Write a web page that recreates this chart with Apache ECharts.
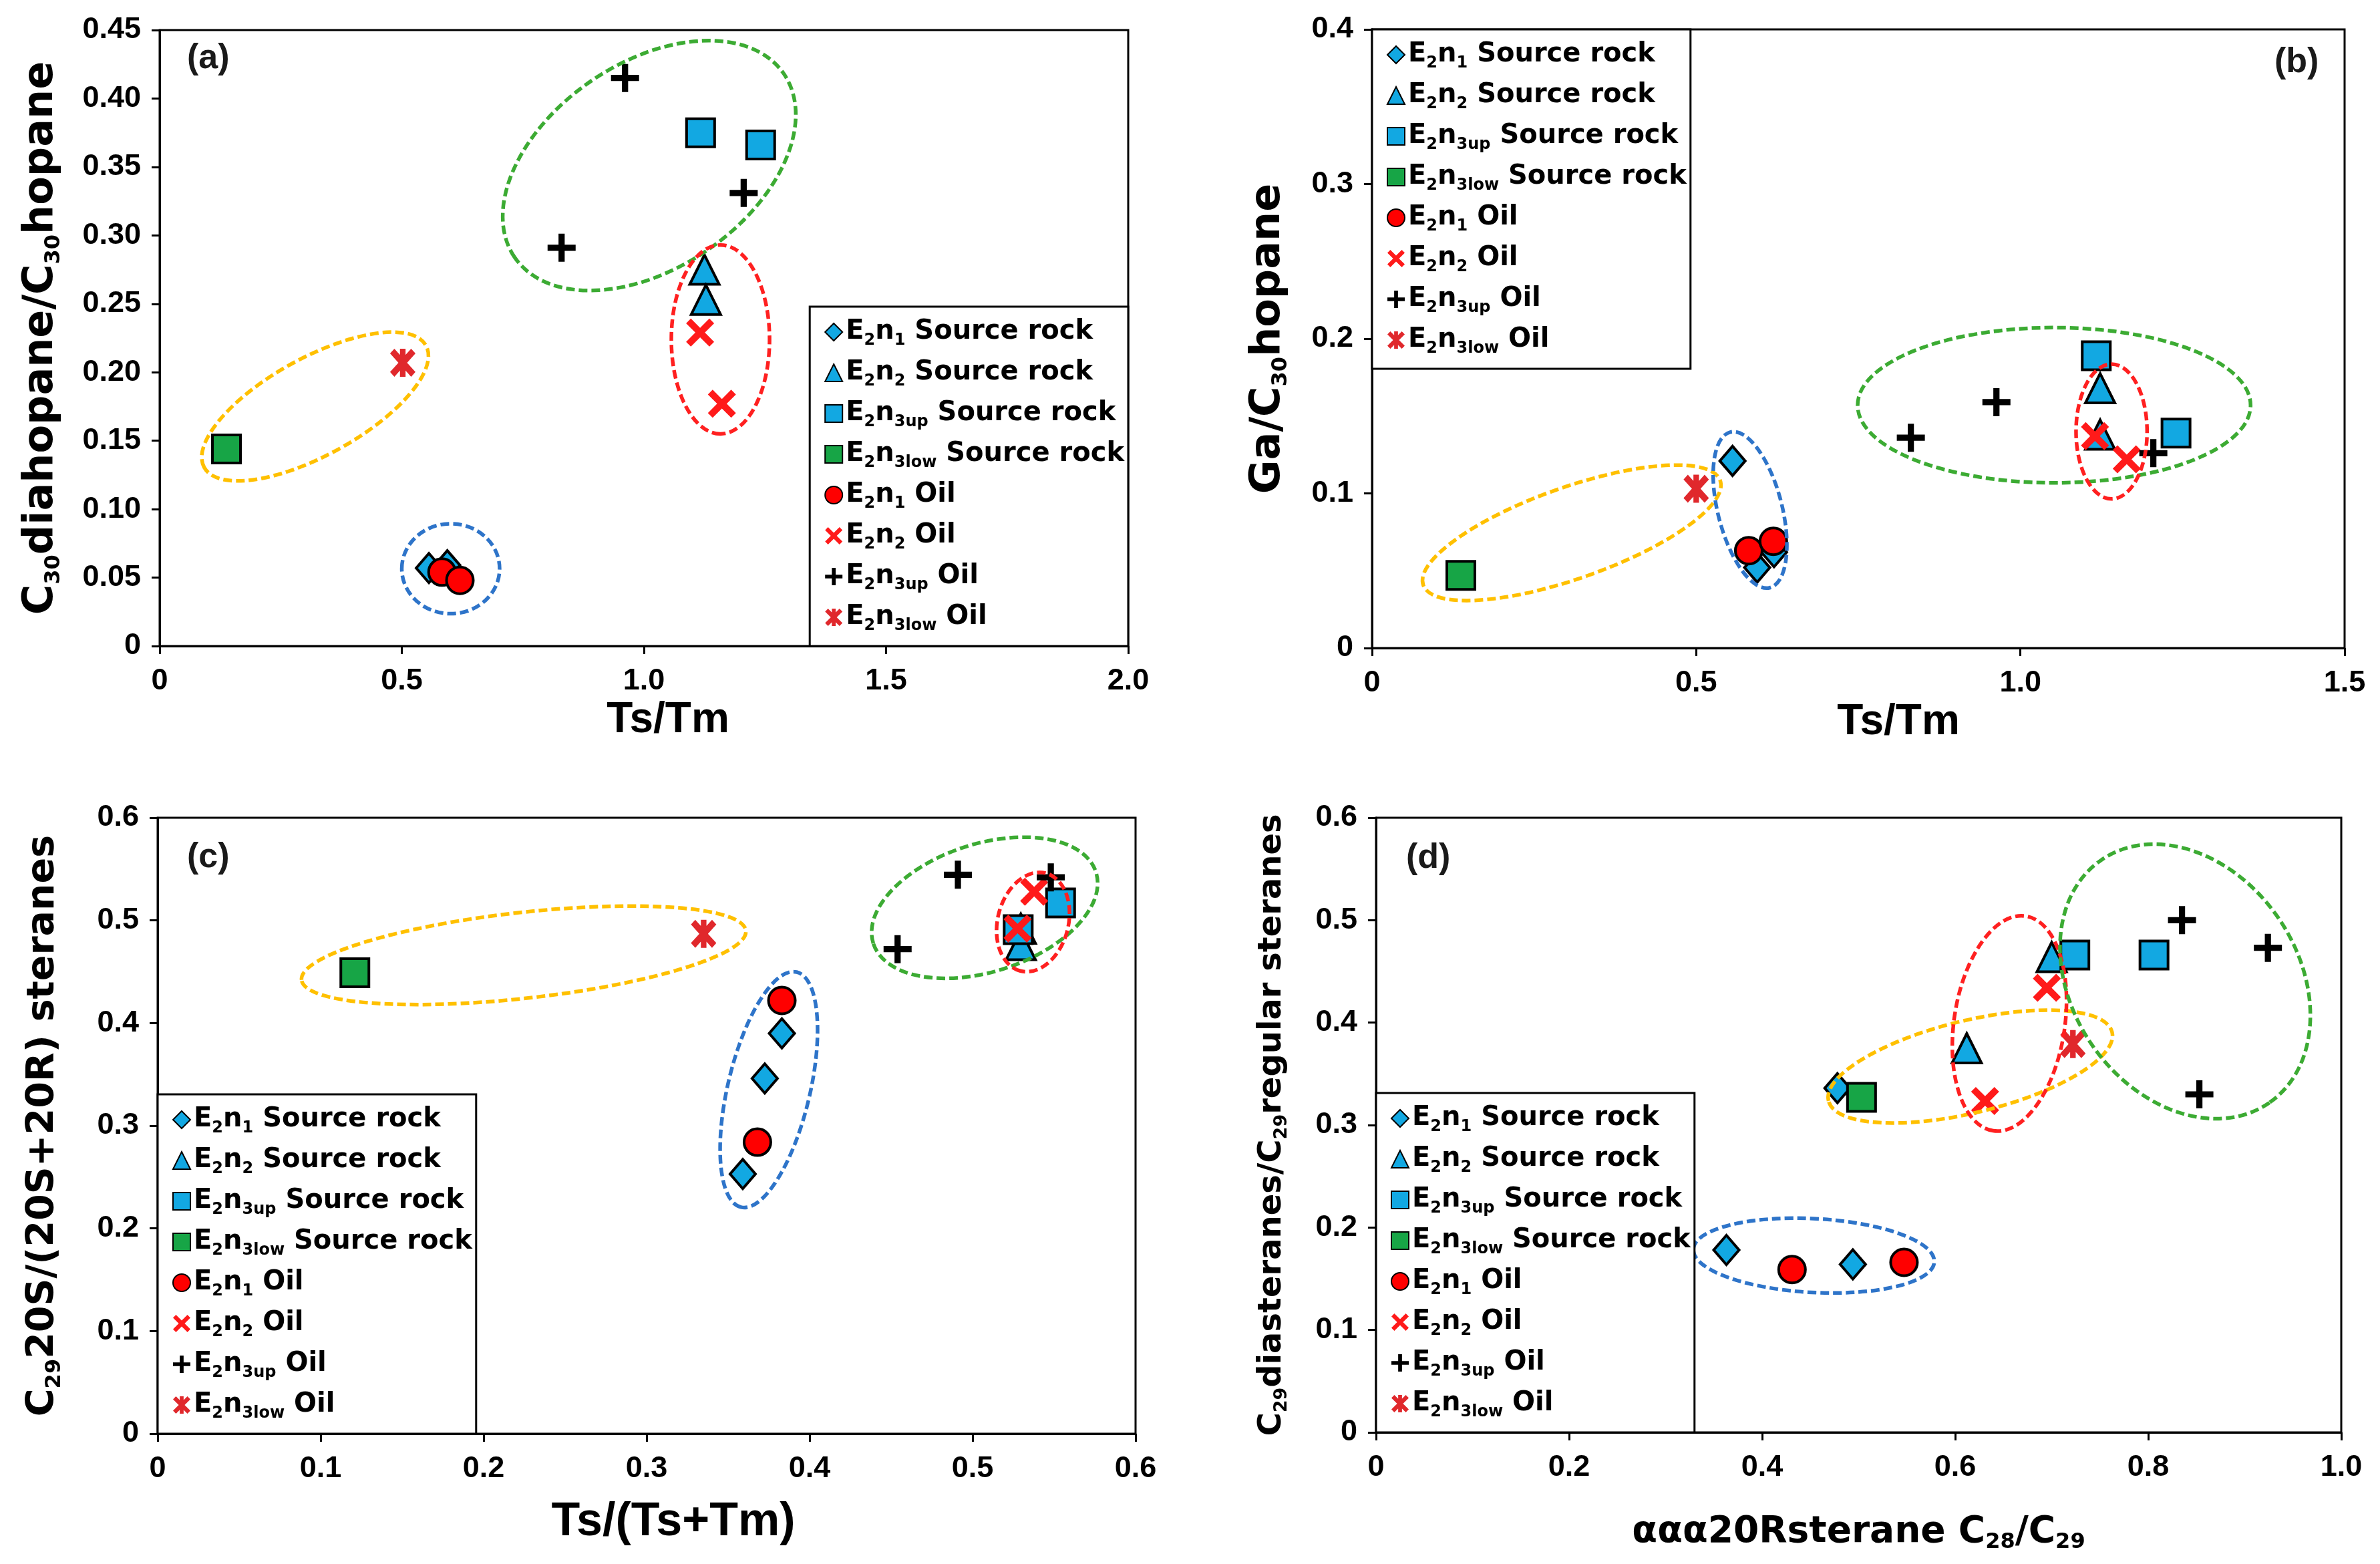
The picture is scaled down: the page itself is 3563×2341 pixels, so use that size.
<!DOCTYPE html>
<html>
<head>
<meta charset="utf-8">
<script src="https://cdn.jsdelivr.net/npm/echarts@6/dist/echarts.min.js"></script>
<style>html,body{margin:0;padding:0;background:#fff}#chart{width:3563px;height:2341px}</style>
</head>
<body>
<div id="chart"></div>
<script>
// ---------------- DATA ----------------
const seriesNames = ['E2n1 Source rock','E2n2 Source rock','E2n3up Source rock','E2n3low Source rock','E2n1 Oil','E2n2 Oil','E2n3up Oil','E2n3low Oil'];

// (a) Ts/Tm  vs  C30 diahopane / C30 hopane
const a_n1Src   = [[0.556,0.057],[0.594,0.059]];
const a_n2Src   = [[1.125,0.275],[1.128,0.253]];
const a_n3upSrc = [[1.117,0.375],[1.241,0.366]];
const a_n3lowSrc= [[0.138,0.144]];
const a_n1Oil   = [[0.583,0.054],[0.620,0.048]];
const a_n2Oil   = [[1.116,0.229],[1.161,0.177]];
const a_n3upOil = [[0.961,0.415],[1.206,0.331],[0.830,0.291]];
const a_n3lowOil= [[0.502,0.207]];

// (b) Ts/Tm  vs  Ga / C30 hopane
const b_n1Src   = [[0.556,0.121],[0.594,0.052],[0.620,0.062]];
const b_n2Src   = [[1.123,0.168],[1.123,0.138]];
const b_n3upSrc = [[1.117,0.189],[1.240,0.139]];
const b_n3lowSrc= [[0.137,0.047]];
const b_n1Oil   = [[0.581,0.063],[0.619,0.069]];
const b_n2Oil   = [[1.115,0.137],[1.164,0.122]];
const b_n3upOil = [[0.831,0.136],[0.963,0.159],[1.205,0.126]];
const b_n3lowOil= [[0.500,0.103]];

// (c) Ts/(Ts+Tm)  vs  C29 20S/(20S+20R) steranes
const c_n1Src   = [[0.359,0.253],[0.3725,0.346],[0.383,0.390]];
const c_n2Src   = [[0.5296,0.492],[0.5296,0.476]];
const c_n3upSrc = [[0.528,0.491],[0.554,0.517]];
const c_n3lowSrc= [[0.121,0.449]];
const c_n1Oil   = [[0.383,0.422],[0.368,0.284]];
const c_n2Oil   = [[0.5276,0.492],[0.5378,0.528]];
const c_n3upOil = [[0.491,0.5445],[0.454,0.472],[0.548,0.542]];
const c_n3lowOil= [[0.335,0.487]];

// (d) aaa20R sterane C28/C29  vs  C29 diasteranes / C29 regular steranes
const d_n1Src   = [[0.478,0.336],[0.363,0.178],[0.494,0.164]];
const d_n2Src   = [[0.612,0.375],[0.700,0.464]];
const d_n3upSrc = [[0.724,0.466],[0.806,0.466]];
const d_n3lowSrc= [[0.503,0.327]];
const d_n1Oil   = [[0.431,0.159],[0.547,0.166]];
const d_n2Oil   = [[0.695,0.434],[0.631,0.3235]];
const d_n3upOil = [[0.835,0.500],[0.924,0.473],[0.853,0.330]];
const d_n3lowOil= [[0.722,0.379]];

// Group ellipses: [centre x, centre y, major-axis end x, major-axis end y, minor/major ratio] in data units
const a_groups = [[1.011,0.351,1.289,0.418,0.63],[1.158,0.224,1.158,0.293,0.52],[0.321,0.175,0.550,0.2195,0.385],[0.601,0.0565,0.702,0.0565,0.92]];
const a_groupKeys = ['green','red','yellow','blue'];
const b_groups = [[1.052,0.157,1.355,0.157,0.395],[1.1406,0.140,1.1406,0.1836,0.527],[0.308,0.0745,0.537,0.1083,0.29],[0.583,0.0893,0.5525,0.1396,0.40]];
const b_groupKeys = ['green','red','yellow','blue'];
const c_groups = [[0.2246,0.466,0.3609,0.490,0.192],[0.375,0.3352,0.3921,0.4497,0.34],[0.5074,0.5123,0.5757,0.547,0.547],[0.5371,0.4984,0.5449,0.546,0.70]];
const c_groupKeys = ['yellow','blue','green','red'];
const d_groups = [[0.4536,0.1726,0.5784,0.1664,0.306],[0.6157,0.3571,0.7626,0.3906,0.316],[0.6562,0.3992,0.673,0.504,0.51],[0.8383,0.4402,0.751,0.5585,0.764]];
const d_groupKeys = ['blue','yellow','red','green'];

// Tick labels
const aXTicks = ['0','0.5','1.0','1.5','2.0'];
const aYTicks = ['0','0.05','0.10','0.15','0.20','0.25','0.30','0.35','0.40','0.45'];
const bXTicks = ['0','0.5','1.0','1.5'];
const bYTicks = ['0','0.1','0.2','0.3','0.4'];
const cXTicks = ['0','0.1','0.2','0.3','0.4','0.5','0.6'];
const cYTicks = ['0','0.1','0.2','0.3','0.4','0.5','0.6'];
const dXTicks = ['0','0.2','0.4','0.6','0.8','1.0'];
const dYTicks = ['0','0.1','0.2','0.3','0.4','0.5','0.6'];

// ---------------- STYLE / LAYOUT ----------------
const TICKFONT = "'Liberation Sans', Arial, sans-serif";
const WIDEFONT = "'DejaVu Sans', Verdana, sans-serif";
const BLUE = '#12a8e2', GREEN = '#17a546', REDFILL = '#ff0000', REDX = '#ff1a1a', STARRED = '#e0282c';
const ELLIPSE_COLORS = {green:'#3cab33', red:'#ff2020', yellow:'#ffc000', blue:'#2e74c9'};
const X_PATH = 'path://M17,0 L50,33 L83,0 L100,17 L67,50 L100,83 L83,100 L50,67 L17,100 L0,83 L33,50 L0,17 Z';
const PLUS_PATH = 'path://M39,0 H61 V39 H100 V61 H61 V100 H39 V61 H0 V39 H39 Z';
const STAR_PATH = 'path://M17,0 L50,33 L83,0 L100,17 L67,50 L100,83 L83,100 L50,67 L17,100 L0,83 L33,50 L0,17 Z M39,0 H61 V100 H39 Z';

const seriesStyle = [
  {symbol:'diamond', size:[38,44], color:BLUE, border:true},
  {symbol:'triangle', size:[44,44], color:BLUE, border:true},
  {symbol:'rect', size:42, color:BLUE, border:true},
  {symbol:'rect', size:42, color:GREEN, border:true},
  {symbol:'circle', size:40, color:REDFILL, border:true},
  {symbol:X_PATH, size:42, color:REDX, border:false},
  {symbol:PLUS_PATH, size:42, color:'#000', border:false},
  {symbol:STAR_PATH, size:[38,42], color:STARRED, border:false}
];

const legendText = [
  '{m|E}{s|2}{m|n}{s|1}{m| Source rock}',
  '{m|E}{s|2}{m|n}{s|2}{m| Source rock}',
  '{m|E}{s|2}{m|n}{s|3up}{m| Source rock}',
  '{m|E}{s|2}{m|n}{s|3low}{m| Source rock}',
  '{m|E}{s|2}{m|n}{s|1}{m| Oil}',
  '{m|E}{s|2}{m|n}{s|2}{m| Oil}',
  '{m|E}{s|2}{m|n}{s|3up}{m| Oil}',
  '{m|E}{s|2}{m|n}{s|3low}{m| Oil}'
];

const grids = [
  {left:239, top:45, width:1450, height:922},
  {left:2054, top:44, width:1456, height:926},
  {left:236, top:1224, width:1464, height:922},
  {left:2060, top:1224, width:1445, height:920}
];

const panelData = [
  [a_n1Src,a_n2Src,a_n3upSrc,a_n3lowSrc,a_n1Oil,a_n2Oil,a_n3upOil,a_n3lowOil],
  [b_n1Src,b_n2Src,b_n3upSrc,b_n3lowSrc,b_n1Oil,b_n2Oil,b_n3upOil,b_n3lowOil],
  [c_n1Src,c_n2Src,c_n3upSrc,c_n3lowSrc,c_n1Oil,c_n2Oil,c_n3upOil,c_n3lowOil],
  [d_n1Src,d_n2Src,d_n3upSrc,d_n3lowSrc,d_n1Oil,d_n2Oil,d_n3upOil,d_n3lowOil]
];
const panelGroups = [a_groups,b_groups,c_groups,d_groups];
const panelGroupKeys = [a_groupKeys,b_groupKeys,c_groupKeys,d_groupKeys];

const xScale = [
  {min:0,max:2,interval:0.5,ticks:aXTicks},
  {min:0,max:1.5,interval:0.5,ticks:bXTicks},
  {min:0,max:0.6,interval:0.1,ticks:cXTicks},
  {min:0,max:1.0,interval:0.2,ticks:dXTicks}
];
const yScale = [
  {min:0,max:0.45,interval:0.05,ticks:aYTicks},
  {min:0,max:0.4,interval:0.1,ticks:bYTicks},
  {min:0,max:0.6,interval:0.1,ticks:cYTicks},
  {min:0,max:0.6,interval:0.1,ticks:dYTicks}
];

const xNames = [
  {name:'{m|Ts/Tm}', gap:74, size:64, sub:38, font:TICKFONT, shift:36},
  {name:'{m|Ts/Tm}', gap:74, size:64, sub:38, font:TICKFONT, shift:60},
  {name:'{m|Ts/(Ts+Tm)}', gap:92, size:70, sub:40, font:TICKFONT, shift:40},
  {name:'{m|ααα20Rsterane C}{s|28}{m|/C}{s|29}', gap:118, size:55, sub:32, font:WIDEFONT, shift:0}
];
const yNames = [
  {name:'{m|C}{s|30}{m|diahopane/C}{s|30}{m|hopane}', gap:142, size:62, sub:32, font:WIDEFONT},
  {name:'{m|Ga/C}{s|30}{m|hopane}', gap:120, size:62, sub:32, font:WIDEFONT},
  {name:'{m|C}{s|29}{m|20S/(20S+20R) steranes}', gap:138, size:57, sub:32, font:WIDEFONT},
  {name:'{m|C}{s|29}{m|diasteranes/C}{s|29}{m|regular steranes}', gap:128, size:48, sub:27, font:WIDEFONT}
];

function richName(size, sub, font) {
  const lh = Math.round(size * 1.15);
  return {
    m: {fontFamily: font, fontWeight: 'bold', fontSize: size, color: '#000', lineHeight: lh},
    s: {fontFamily: font, fontWeight: 'bold', fontSize: sub, color: '#000', lineHeight: Math.round(sub * 1.35), verticalAlign: 'bottom'}
  };
}

function tickFormatter(sc) {
  return function (v) { return sc.ticks[Math.round((v - sc.min) / sc.interval)]; };
}

const commonAxis = {
  axisLine: {show: true, onZero: false, lineStyle: {color: '#000', width: 3}},
  axisTick: {show: true, inside: false, length: 12, lineStyle: {color: '#000', width: 3}},
  splitLine: {show: false},
  axisLabel: {show: true, color: '#000', fontFamily: TICKFONT, fontWeight: 'bold', fontSize: 45}
};

const option = {
  animation: false,
  backgroundColor: '#fff',
  grid: grids.map(g => Object.assign({show: true, borderColor: '#000', borderWidth: 3, containLabel: false, outerBoundsMode: 'none'}, g)),
  xAxis: xScale.map((sc, i) => ({
    type: 'value', gridIndex: i, min: sc.min, max: sc.max, interval: sc.interval,
    axisLine: commonAxis.axisLine, axisTick: commonAxis.axisTick, splitLine: commonAxis.splitLine,
    axisLabel: Object.assign({}, commonAxis.axisLabel, {margin: 30, formatter: tickFormatter(sc), showMinLabel: true, showMaxLabel: true}),
    name: xNames[i].name, nameLocation: 'middle', nameGap: xNames[i].gap,
    nameTextStyle: {padding: [0, 0, 0, xNames[i].shift * 2], rich: richName(xNames[i].size, xNames[i].sub, xNames[i].font)}
  })),
  yAxis: yScale.map((sc, i) => ({
    type: 'value', gridIndex: i, min: sc.min, max: sc.max, interval: sc.interval,
    axisLine: commonAxis.axisLine, axisTick: commonAxis.axisTick, splitLine: commonAxis.splitLine,
    axisLabel: Object.assign({}, commonAxis.axisLabel, {margin: 28, formatter: tickFormatter(sc), showMinLabel: true, showMaxLabel: true}),
    name: yNames[i].name, nameLocation: 'middle', nameGap: yNames[i].gap, nameRotate: 90,
    nameTextStyle: {rich: richName(yNames[i].size, yNames[i].sub, yNames[i].font)}
  })),
  title: [
    {text: '(a)', left: 280, top: 62},
    {text: '(b)', left: 3405, top: 68},
    {text: '(c)', left: 280, top: 1258},
    {text: '(d)', left: 2105, top: 1259}
  ].map(t => Object.assign(t, {padding: 0, textStyle: {fontFamily: TICKFONT, fontWeight: 'bold', fontSize: 52, color: '#1a1a1a'}})),
  legend: [
    {right: 1874, bottom: 1374},
    {left: 2054, top: 44},
    {left: 236, bottom: 195},
    {left: 2060, bottom: 197}
  ].map(pos => Object.assign(pos, {
    orient: 'vertical', z: 20, data: seriesNames,
    itemWidth: 26, itemHeight: 26, itemGap: 16,
    backgroundColor: '#fff', borderColor: '#000', borderWidth: 3, borderRadius: 0,
    padding: [18, 6, 18, 22], selectedMode: false,
    formatter: function (name) { return legendText[seriesNames.indexOf(name)]; },
    textStyle: {
      rich: {
        m: {fontFamily: WIDEFONT, fontWeight: 'bold', fontSize: 40, color: '#000', lineHeight: 50},
        s: {fontFamily: WIDEFONT, fontWeight: 'bold', fontSize: 24, color: '#000', lineHeight: 24, verticalAlign: 'bottom'}
      }
    }
  })),
  series: []
};

panelData.forEach((sets, p) => {
  sets.forEach((pts, k) => {
    const st = seriesStyle[k];
    option.series.push({
      type: 'scatter', name: seriesNames[k], xAxisIndex: p, yAxisIndex: p,
      data: pts, symbol: st.symbol, symbolSize: st.size, z: 2 + k * 0.01,
      itemStyle: st.border ? {color: st.color, borderColor: '#000', borderWidth: 4, opacity: 1}
                           : {color: st.color, borderWidth: 0, borderColor: 'transparent', opacity: 1},
      emphasis: {disabled: true}, silent: true
    });
  });
  const keys = panelGroupKeys[p];
  option.series.push({
    type: 'custom', name: 'groups' + p, xAxisIndex: p, yAxisIndex: p, z: 5, silent: true,
    data: panelGroups[p], encode: {x: [0, 2], y: [1, 3]},
    renderItem: function (params, api) {
      const c = api.coord([api.value(0), api.value(1)]);
      const e = api.coord([api.value(2), api.value(3)]);
      const dx = e[0] - c[0], dy = e[1] - c[1];
      const a = Math.sqrt(dx * dx + dy * dy);
      const b = a * api.value(4);
      return {
        type: 'ellipse', x: c[0], y: c[1], rotation: -Math.atan2(dy, dx),
        shape: {cx: 0, cy: 0, rx: a, ry: b},
        style: {fill: 'none', stroke: ELLIPSE_COLORS[keys[params.dataIndex]], lineWidth: 5.5, lineDash: [13, 6]}
      };
    }
  });
});

const chart = echarts.init(document.getElementById('chart'), null, {renderer: 'canvas', width: 3563, height: 2341});
chart.setOption(option);
</script>
</body>
</html>
